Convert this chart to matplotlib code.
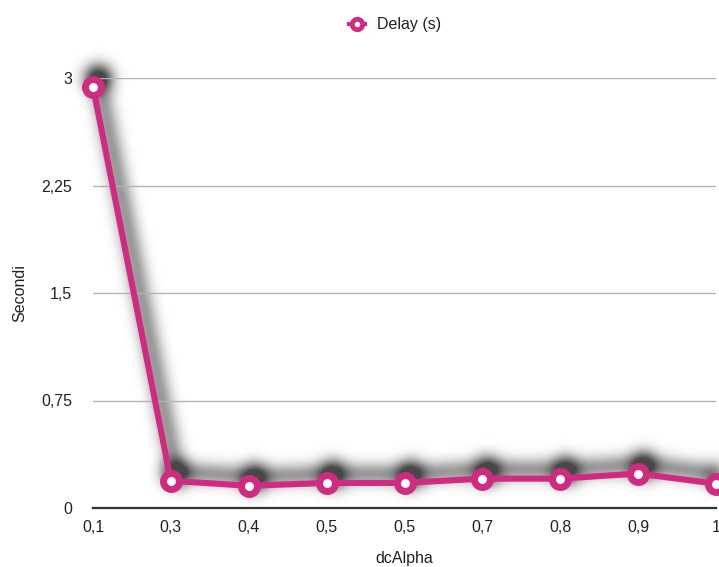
import numpy as np
import matplotlib
matplotlib.use("Agg")
import matplotlib.pyplot as plt
import matplotlib.transforms as mtransforms
from matplotlib.lines import Line2D

categories = ["0,1", "0,3", "0,4", "0,5", "0,5", "0,7", "0,8", "0,9", "1"]
delay = [2.94, 0.19, 0.155, 0.175, 0.175, 0.205, 0.205, 0.24, 0.17]
yticks = [0, 0.75, 1.5, 2.25, 3]
ytick_labels = ["0", "0,75", "1,5", "2,25", "3"]

pink = "#CF2C81"
text_color = "#222222"
plt.rcParams["font.family"] = ["Liberation Sans", "DejaVu Sans"]

W, H, DPI = 7.19, 5.67, 100
rect = [93 / 719, 1 - 508 / 567, (716 - 93) / 719, (508 - 78) / 567]
x = np.arange(len(categories))

line_kw = dict(lw=4.4, marker="o", markersize=11.5, markeredgewidth=5,
               solid_joinstyle="round", clip_on=False)


def blurred_shadow(dx, dy, sigma):
    """Render the series alone, shift it and blur it into a soft alpha mask."""
    sfig = plt.figure(figsize=(W, H), dpi=DPI)
    sfig.patch.set_alpha(0)
    sax = sfig.add_axes(rect)
    sax.set_axis_off()
    sax.set_xlim(0, len(categories) - 1)
    sax.set_ylim(0, 3)
    tr = mtransforms.offset_copy(sax.transData, fig=sfig, x=dx, y=dy, units="dots")
    sax.plot(x, delay, color="black", markerfacecolor="black",
             markeredgecolor="black", transform=tr, **line_kw)
    sfig.canvas.draw()
    alpha = np.asarray(sfig.canvas.buffer_rgba())[:, :, 3].astype(float) / 255
    plt.close(sfig)
    r = int(3 * sigma)
    k = np.exp(-0.5 * (np.arange(-r, r + 1) / sigma) ** 2)
    k /= k.sum()
    pad = np.pad(alpha, r, mode="constant")
    pad = np.apply_along_axis(lambda v: np.convolve(v, k, mode="same"), 0, pad)
    pad = np.apply_along_axis(lambda v: np.convolve(v, k, mode="same"), 1, pad)
    return pad[r:-r, r:-r]


fig = plt.figure(figsize=(W, H), dpi=DPI)
fig.patch.set_facecolor("white")
ax = fig.add_axes(rect)
ax.patch.set_visible(False)

# soft drop shadow under the series (drawn beneath the axes contents)
mask = blurred_shadow(5, 9, 8.0)
shadow = np.zeros(mask.shape + (4,))
shadow[..., 3] = np.clip(mask * 1.35, 0, 0.72)
fig.figimage(shadow, xo=0, yo=0, origin="upper", zorder=-1)

ax.plot(x, delay, color=pink, markerfacecolor="white", markeredgecolor=pink,
        zorder=5, **line_kw)

ax.set_xlim(0, len(categories) - 1)
ax.set_ylim(0, 3)
ax.set_yticks(yticks)
ax.set_yticklabels(ytick_labels)
ax.set_xticks(x)
ax.set_xticklabels(categories)

ax.grid(axis="y", color="#b4b4b4", lw=1.0, zorder=0)
ax.set_axisbelow(True)
for s in ["top", "right", "left"]:
    ax.spines[s].set_visible(False)
ax.spines["bottom"].set_color("#333333")
ax.spines["bottom"].set_linewidth(1.6)
ax.tick_params(axis="both", length=0, labelsize=11.5, colors=text_color)
ax.tick_params(axis="y", pad=15)
ax.tick_params(axis="x", pad=9)

ax.set_xlabel("dcAlpha", fontsize=11.5, color=text_color, labelpad=11)
ax.set_ylabel("Secondi", fontsize=11.5, color=text_color, labelpad=10)

handle = Line2D([], [], color=pink, lw=3, marker="o", markersize=7.5,
                markerfacecolor="white", markeredgecolor=pink, markeredgewidth=3.5)
fig.legend([handle], ["Delay (s)"], loc="center", bbox_to_anchor=(395 / 719, 1 - 25 / 567),
           frameon=False, fontsize=11.5, handlelength=1.0, handletextpad=0.7,
           labelcolor=text_color)

fig.savefig("out.png", dpi=DPI)
